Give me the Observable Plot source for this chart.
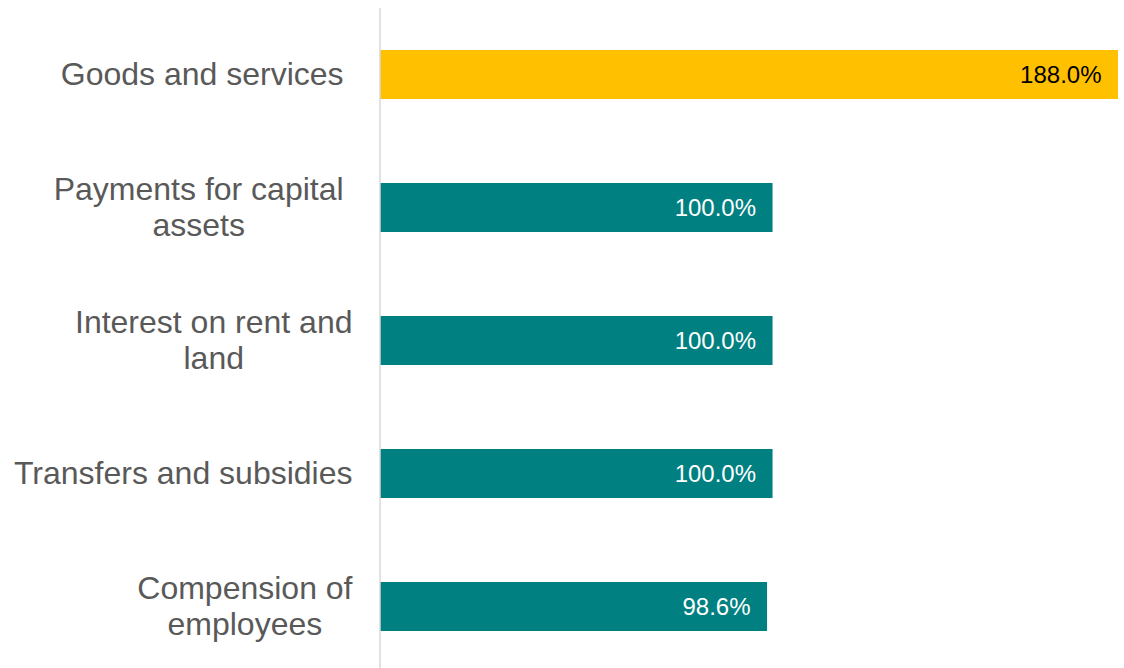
<!DOCTYPE html>
<html>
<head>
<meta charset="utf-8">
<script src="https://cdn.jsdelivr.net/npm/d3@7"></script>
<script src="https://cdn.jsdelivr.net/npm/@observablehq/plot@0.6"></script>
<style>
  html, body { margin: 0; padding: 0; background: #fff; }
  #chart svg { display: block; }
</style>
</head>
<body>
<div id="chart"></div>
<script>
// Data
const categories = [
  "Goods and services ",
  "Payments for capital \nassets",
  "Interest on rent and\nland",
  "Transfers and subsidies",
  "Compension of\nemployees"
];
const values = [188.0, 100.0, 100.0, 100.0, 98.6];
const valueLabels = ["188.0%", "100.0%", "100.0%", "100.0%", "98.6%"];
const highlight = [true, false, false, false, false];

const W = 1124, H = 668;
const labelFont = 32;
const labelRight = 352;
const fontFamily = '"Liberation Sans", Arial, sans-serif';

const data = categories.map((c, i) => ({
  cat: c, value: values[i], label: valueLabels[i], hi: highlight[i]
}));

const xScale = Plot.scale({x: {domain: [0, 188], range: [380, 1118]}});

// measure labels to center their lines inside a right-aligned block
const ctx = document.createElement("canvas").getContext("2d");
ctx.font = `${labelFont}px ${fontFamily}`;
const labelData = categories.map(c => {
  const lines = c.split("\n");
  let blockW = 0, trail = 0;
  for (const l of lines) {
    const w = ctx.measureText(l).width;
    if (w > blockW) {
      blockW = w;
      trail = w - ctx.measureText(l.trimEnd()).width;
    }
  }
  const centerPx = labelRight - blockW / 2 - trail / 2;
  return {cat: c, text: lines.map(l => l.trim()).join("\n"), x: xScale.invert(centerPx)};
});

const chart = Plot.plot({
  width: W,
  height: H,
  marginLeft: 380,
  marginRight: 6,
  marginTop: 8,
  marginBottom: 0,
  style: {fontFamily: fontFamily, background: "#ffffff"},
  x: {domain: [0, 188], range: [380, 1118], axis: null},
  y: {domain: categories, range: [7.5, 672.5], paddingInner: 0.632, paddingOuter: 0.316, axis: null},
  marks: [
    Plot.barX(data, {
      x: "value", y: "cat",
      fill: d => d.hi ? "#FFC000" : "#008080"
    }),
    Plot.ruleX([0], {stroke: "#d9d9d9", strokeWidth: 1.5, dx: -0.5}),
    Plot.text(data, {
      x: "value", y: "cat", text: "label",
      textAnchor: "end", dx: -17,
      fontSize: 24,
      fill: d => d.hi ? "#000000" : "#ffffff"
    }),
    Plot.text(labelData, {
      x: "x", y: "cat", text: "text",
      textAnchor: "middle", lineAnchor: "middle",
      lineHeight: 1.12,
      dy: -1.5,
      fontSize: labelFont,
      fill: "#595959"
    })
  ]
});
document.getElementById("chart").appendChild(chart);
</script>
</body>
</html>
